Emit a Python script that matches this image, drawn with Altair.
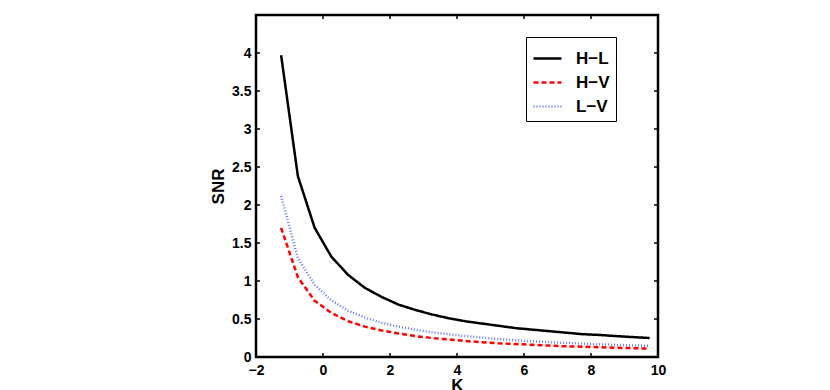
import altair as alt
import pandas as pd

K = [-1.25, -0.75, -0.25, 0.25, 0.75, 1.25, 1.75, 2.25, 2.75, 3.25, 3.75, 4.25,
     4.75, 5.25, 5.75, 6.25, 6.75, 7.25, 7.75, 8.25, 8.75, 9.25, 9.75]
HL = [3.97, 2.38, 1.70, 1.32, 1.08, 0.91, 0.79, 0.69, 0.62, 0.56, 0.51, 0.47,
      0.44, 0.41, 0.38, 0.36, 0.34, 0.32, 0.30, 0.29, 0.275, 0.262, 0.25]
HV = [1.70, 1.05, 0.74, 0.58, 0.47, 0.40, 0.35, 0.31, 0.275, 0.25, 0.23, 0.21,
      0.195, 0.18, 0.17, 0.16, 0.15, 0.14, 0.135, 0.128, 0.122, 0.116, 0.11]
LV = [2.12, 1.30, 0.95, 0.745, 0.61, 0.52, 0.45, 0.40, 0.36, 0.325, 0.30, 0.275,
      0.255, 0.236, 0.22, 0.207, 0.196, 0.185, 0.176, 0.167, 0.16, 0.152, 0.146]
series = ["H\u2212L", "H\u2212V", "L\u2212V"]
xticks = [-2, 0, 2, 4, 6, 8, 10]
yticks = [0, 0.5, 1, 1.5, 2, 2.5, 3, 3.5, 4]

rows = []
for name, vals in zip(series, [HL, HV, LV]):
    for k, v in zip(K, vals):
        rows.append({"K": k, "SNR": v, "series": name})
df = pd.DataFrame(rows)

W, H = 402, 342
FONT = "Liberation Sans"

xs = alt.Scale(domain=[-2, 10], nice=False, zero=False)
ys = alt.Scale(domain=[0, 4.5], nice=False)

lines = alt.Chart(df).mark_line(strokeCap="butt", strokeWidth=2.5).encode(
    x=alt.X("K:Q", scale=xs,
            axis=alt.Axis(values=xticks, title="K", domain=False, ticks=False, grid=False,
                          labelFlush=False,
                          labelFont=FONT, labelFontSize=14, labelFontWeight="bold",
                          labelColor="black", labelPadding=6,
                          titleFont=FONT, titleFontSize=17, titleFontWeight="bold",
                          titleColor="black", titlePadding=0)),
    y=alt.Y("SNR:Q", scale=ys,
            axis=alt.Axis(values=yticks, title="SNR", domain=False, ticks=False, grid=False,
                          labelExpr="format(datum.value, '~g')",
                          labelFont=FONT, labelFontSize=14, labelFontWeight="bold",
                          labelColor="black", labelPadding=5,
                          titleFont=FONT, titleFontSize=17, titleFontWeight="bold",
                          titleColor="black", titlePadding=4)),
    color=alt.Color("series:N", scale=alt.Scale(domain=series, range=["black", "#ff0000", "#6677ff"]),
                    legend=alt.Legend(title=None, orient="none", legendX=270, legendY=22,
                                      symbolType="stroke", symbolSize=784, symbolStrokeWidth=2.5,
                                      labelFont=FONT, labelFontSize=17, labelFontWeight="bold",
                                      labelColor="black", labelOffset=13, rowPadding=-2,
                                      padding=6, strokeColor="black", fillColor="white")),
    strokeDash=alt.StrokeDash("series:N", scale=alt.Scale(domain=series, range=[[1, 0], [5, 3], [1, 2]])),
)

xt = pd.DataFrame({"xv": xticks[1:-1]})
yt = pd.DataFrame({"yv": yticks[1:]})
bt = alt.Chart(xt).mark_rule(color="black", strokeWidth=1.5).encode(
    x=alt.X("xv:Q", scale=xs), y=alt.value(H), y2=alt.value(H - 4))
tt = alt.Chart(xt).mark_rule(color="black", strokeWidth=1.5).encode(
    x=alt.X("xv:Q", scale=xs), y=alt.value(0), y2=alt.value(4))
lt = alt.Chart(yt).mark_rule(color="black", strokeWidth=1.5).encode(
    y=alt.Y("yv:Q", scale=ys), x=alt.value(0), x2=alt.value(4))
rt = alt.Chart(yt).mark_rule(color="black", strokeWidth=1.5).encode(
    y=alt.Y("yv:Q", scale=ys), x=alt.value(W), x2=alt.value(W - 4))

panel = alt.layer(lines, bt, tt, lt, rt).properties(width=W, height=H)

spacer = alt.Chart(pd.DataFrame({"s": [0]})).mark_point(opacity=0).encode(
    x=alt.X("s:Q", axis=None), y=alt.Y("s:Q", axis=None)
).properties(width=191, height=10, view=alt.ViewBackground(stroke="transparent"))

chart = alt.hconcat(spacer, panel, spacing=0).resolve_legend(
    color="independent", strokeDash="independent"
).resolve_scale(x="independent", y="independent").configure_view(stroke="black", strokeWidth=2.5)

chart.save("out.html", embed_options={"renderer": "svg", "actions": False})
